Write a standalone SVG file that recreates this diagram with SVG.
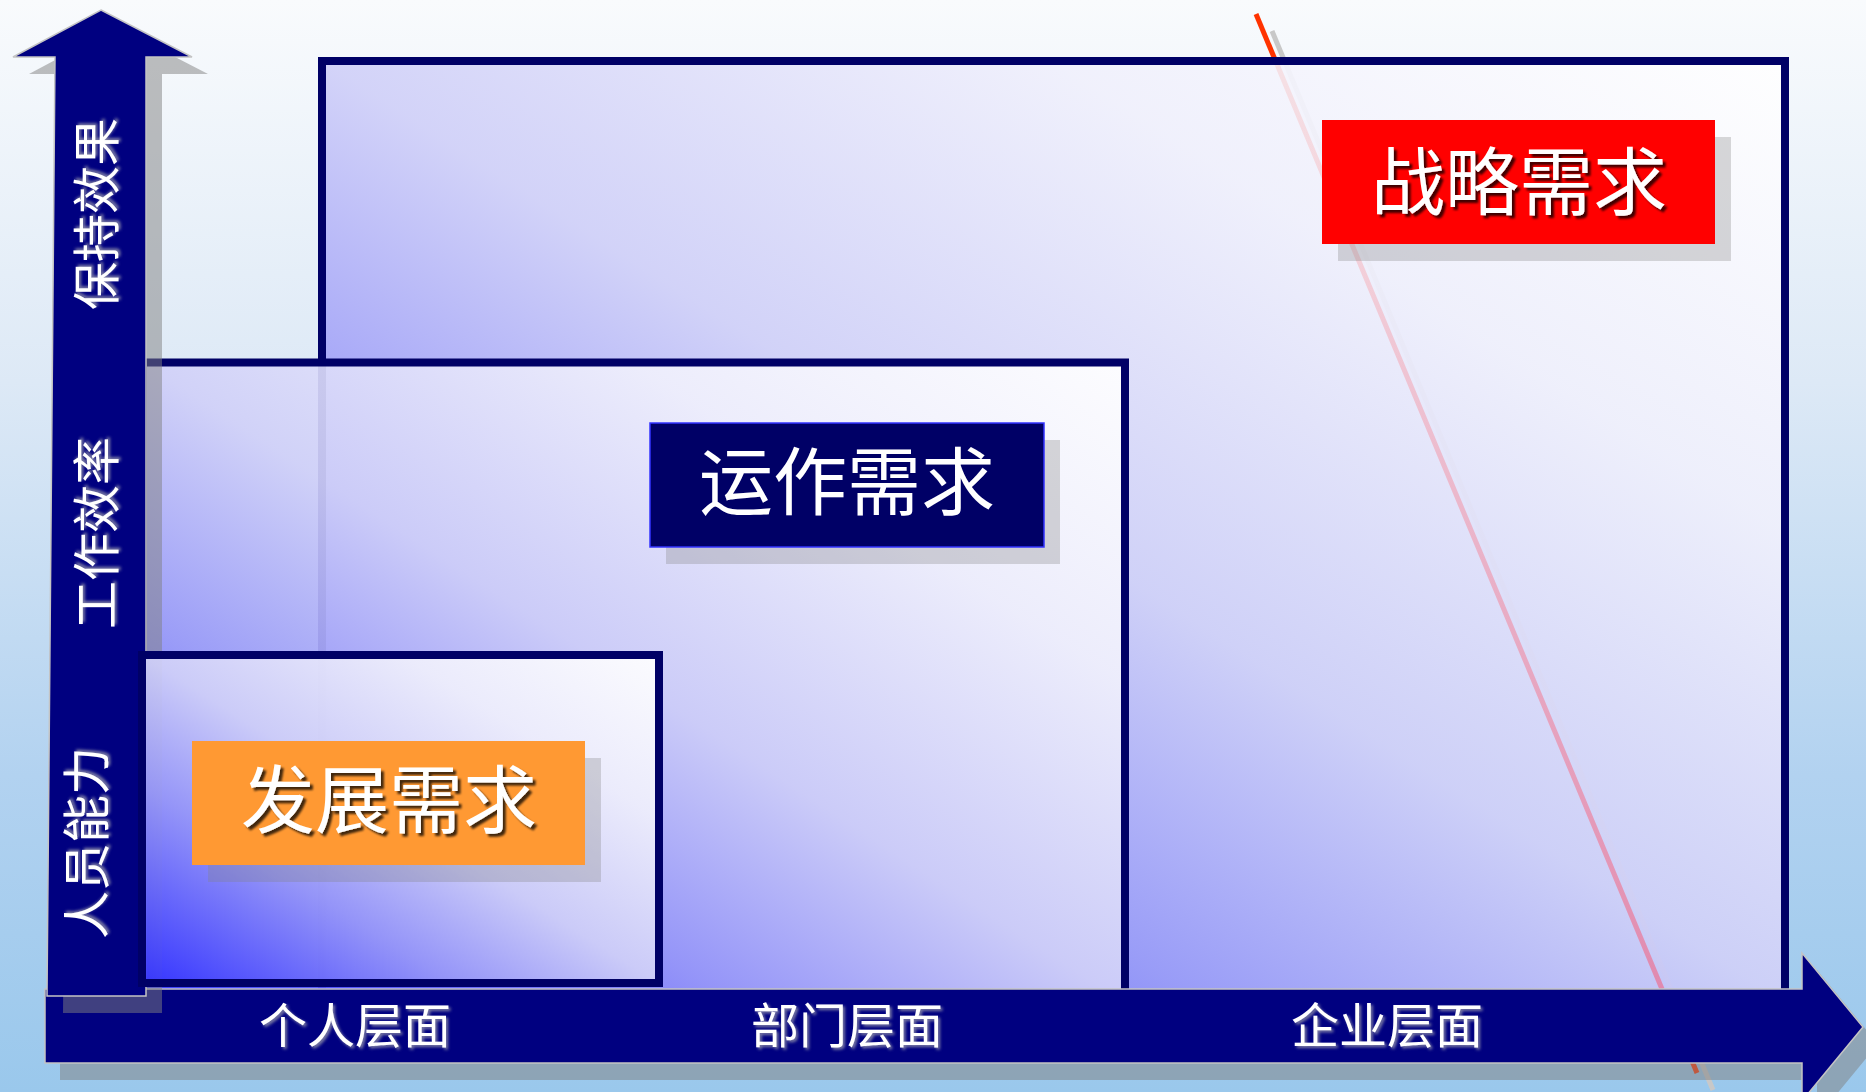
<svg xmlns="http://www.w3.org/2000/svg" width="1866" height="1092" viewBox="0 0 1866 1092">
<defs>
<style>
.box{fill:url(#boxfill);fill-opacity:.92;stroke:#000066;stroke-width:8}
.arrow{fill:#000080;stroke:#c4c4c4;stroke-width:1.5}
.ashadow{fill:#808080;fill-opacity:.5}
.lshadow{fill:#808080;fill-opacity:.3}
.lbl{font-family:"Noto Sans CJK SC","Noto Sans CJK JP",sans-serif;font-size:74px;fill:#fff;text-anchor:middle}
.ax{font-family:"Noto Sans CJK SC","Noto Sans CJK JP",sans-serif;font-size:48px;fill:#fff;text-anchor:middle}
</style>
<linearGradient id="bg" x1="0" y1="0" x2="0" y2="1">
<stop offset="0" stop-color="#f9fbfd"/>
<stop offset="0.35" stop-color="#dde9f6"/>
<stop offset="0.71" stop-color="#b2d2f0"/>
<stop offset="1" stop-color="#9ac8ec"/>
</linearGradient>
<linearGradient id="boxfill" x1="0" y1="1" x2="1" y2="0">
<stop offset="0" stop-color="#3333ff"/>
<stop offset="0.3" stop-color="#9898f8"/>
<stop offset="0.5" stop-color="#d0d0f8"/>
<stop offset="0.75" stop-color="#f0f0fc"/>
<stop offset="1" stop-color="#ffffff"/>
</linearGradient>
<linearGradient id="fade" gradientUnits="userSpaceOnUse" x1="0" y1="65" x2="0" y2="990">
<stop offset="0" stop-color="#ff4060" stop-opacity="0.03"/>
<stop offset="1" stop-color="#ff4060" stop-opacity="0.4"/>
</linearGradient>
<filter id="ts" x="-10%" y="-20%" width="130%" height="160%">
<feDropShadow dx="3" dy="3" stdDeviation="1.2" flood-color="#000" flood-opacity="0.75"/>
</filter>
<filter id="ats" x="-10%" y="-30%" width="130%" height="170%">
<feDropShadow dx="2" dy="2" stdDeviation="1.5" flood-color="#8a8aa8" flood-opacity="0.9"/>
</filter>
</defs>

<rect x="0" y="0" width="1866" height="1092" fill="url(#bg)"/>

<g id="decor-line">
<line x1="1272" y1="31" x2="1713" y2="1090" stroke="#c8c8c8" stroke-width="5"/>
<line x1="1256" y1="14" x2="1697" y2="1073" stroke="#ff3300" stroke-width="5"/>
</g>

<g id="node-strategy-area">
<rect class="box" x="322" y="61" width="1463" height="940"/>
</g>
<g id="node-operation-area">
<rect class="box" x="143" y="362.5" width="982" height="640"/>
</g>

<line id="decor-line-fade" x1="1277.7" y1="66" x2="1662" y2="989" stroke="url(#fade)" stroke-width="5"/>

<g id="axis-x">
<polygon class="ashadow" transform="translate(15,17)" points="45,989 1802,989 1802,953 1863,1027 1802,1101 1802,1063 45,1063"/>
<polygon class="arrow" points="45,989 1802,989 1802,953 1863,1027 1802,1101 1802,1063 45,1063"/>
<text class="ax" filter="url(#ats)" x="355" y="1043">个人层面</text>
<text class="ax" filter="url(#ats)" x="847" y="1043">部门层面</text>
<text class="ax" filter="url(#ats)" x="1387" y="1043">企业层面</text>
</g>

<g id="axis-y">
<polygon class="ashadow" transform="translate(16,17)" points="101,10 192,57 146,57 146,996 47,996 55,57 13,57"/>
<polygon class="arrow" points="101,10 192,57 146,57 146,996 47,996 55,57 13,57"/>
<text class="ax" filter="url(#ats)" transform="translate(97,214) rotate(-90)" x="0" y="17">保持效果</text>
<text class="ax" filter="url(#ats)" transform="translate(97,533) rotate(-90)" x="0" y="17">工作效率</text>
<text class="ax" filter="url(#ats)" transform="translate(87,843) rotate(-90)" x="0" y="17">人员能力</text>
</g>

<g id="node-development-area">
<rect class="box" x="142" y="655" width="517" height="328"/>
</g>

<g id="node-strategy">
<rect class="lshadow" x="1338" y="137" width="393" height="124"/>
<rect x="1322" y="120" width="393" height="124" fill="#ff0000"/>
<text class="lbl" filter="url(#ts)" x="1519" y="209">战略需求</text>
</g>

<g id="node-operation">
<rect class="lshadow" x="666" y="440" width="394" height="124"/>
<rect x="650" y="423" width="394" height="124" fill="#000066" stroke="#3333ff" stroke-width="1.5"/>
<text class="lbl" x="847" y="509">运作需求</text>
</g>

<g id="node-development">
<rect class="lshadow" x="208" y="758" width="393" height="124"/>
<rect x="192" y="741" width="393" height="124" fill="#ff9933"/>
<text class="lbl" filter="url(#ts)" x="389" y="827">发展需求</text>
</g>
</svg>
